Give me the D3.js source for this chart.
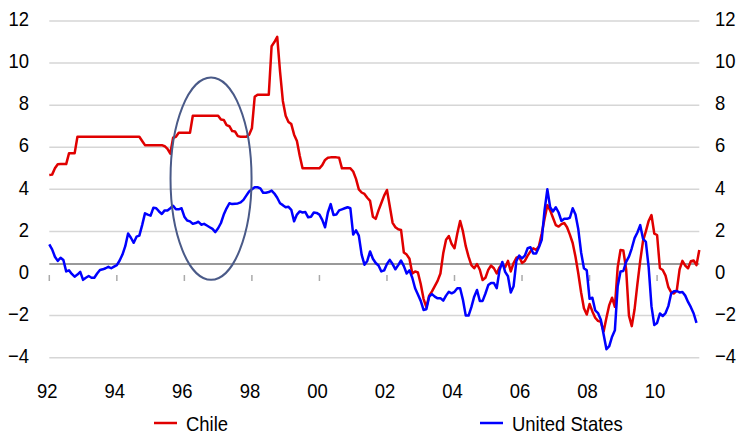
<!DOCTYPE html>
<html>
<head>
<meta charset="utf-8">
<script src="https://cdn.jsdelivr.net/npm/d3@7"></script>
<style>
body { margin: 0; background: #fff; }
text { font-family: "Liberation Sans", Arial, sans-serif; font-size: 20.5px; fill: #000; }
</style>
</head>
<body>
<svg id="chart" width="739" height="435"></svg>
<script>
// monthly values, starting Jan 1992
var startYear = 1992;

var chile = [
  4.68, 4.7, 5.0, 5.19, 5.2, 5.2, 5.2, 5.71, 5.71, 5.71, 6.5, 6.5,
  6.5, 6.5, 6.5, 6.5, 6.5, 6.5, 6.5, 6.5, 6.5, 6.5, 6.5, 6.5,
  6.5, 6.5, 6.5, 6.5, 6.5, 6.5, 6.5, 6.5, 6.5, 6.3, 6.1, 6.1,
  6.1, 6.1, 6.1, 6.1, 6.1, 6.05, 5.92, 5.7, 6.45, 6.5, 6.69, 6.69,
  6.69, 6.69, 6.69, 7.5, 7.5, 7.5, 7.5, 7.5, 7.5, 7.5, 7.5, 7.5,
  7.5, 7.32, 7.3, 7.05, 7.0, 6.77, 6.75, 6.53, 6.5, 6.5, 6.5, 6.6,
  6.9, 8.4, 8.5, 8.5, 8.5, 8.5, 8.5, 10.8, 11.0, 11.25, 9.6, 8.2,
  7.5, 7.2, 7.1, 6.6, 6.3, 5.6, 5.0, 5.0, 5.0, 5.0, 5.0, 5.0,
  5.0, 5.15, 5.4, 5.5, 5.52, 5.52, 5.52, 5.5, 5.0, 5.0, 5.0, 5.0,
  4.85, 4.5, 4.0, 3.85, 3.78, 3.6, 3.45, 2.7, 2.6, 3.0, 3.35, 3.7,
  3.97, 3.2, 2.41, 2.2, 2.1, 2.07, 1.0, 0.9, 0.7, 0.0, 0.1, 0.05,
  -0.5, -1.2, -1.6, -1.05, -0.85, -0.6, -0.35, 0.0, 0.96, 1.6, 1.78, 1.4,
  1.2, 1.9, 2.5, 2.0, 1.3, 0.8, 0.4, 0.25, 0.45, 0.18, -0.31, -0.2,
  0.17, 0.38, 0.25, 0.0, 0.3, 0.45, 0.3, 0.6, 0.1, 0.5, 0.75, 0.8,
  0.5, 0.6, 0.85, 1.05, 1.2, 1.12, 1.3, 1.9, 2.6, 3.25, 3.0, 2.65,
  2.3, 2.23, 2.35, 2.4, 2.2, 1.85, 1.45, 0.8, 0.0, -0.9, -1.65, -1.95,
  -1.45, -1.8, -2.1, -2.25, -2.3, -2.75, -2.1, -1.5, -1.15, -1.58, 0.3, 1.12,
  1.1, 0.2, -2.0, -2.5, -1.7, -0.5, 0.6, 1.55, 2.0, 2.5, 2.78, 1.9,
  1.83, 0.25, 0.17, -0.1, -0.65, -0.9, -0.95, -0.8, 0.2, 0.6, 0.38, 0.25,
  0.58, 0.62, 0.4, 1.12
];

var unitedStates = [
  1.39, 1.15, 0.8, 0.6, 0.75, 0.64, 0.1, 0.15, -0.02, -0.15, -0.05, 0.08,
  -0.3, -0.2, -0.12, -0.2, -0.2, 0.0, 0.17, 0.2, 0.25, 0.32, 0.25, 0.33,
  0.4, 0.62, 0.9, 1.3, 1.9, 1.7, 1.46, 1.75, 1.8, 2.3, 2.86, 2.8,
  2.75, 3.13, 3.1, 2.95, 2.83, 3.0, 3.0, 3.1, 3.22, 3.05, 3.05, 3.1,
  2.7, 2.52, 2.48, 2.36, 2.4, 2.46, 2.32, 2.36, 2.28, 2.2, 2.12, 1.97,
  2.15, 2.4, 2.8, 3.1, 3.34, 3.3, 3.32, 3.33, 3.38, 3.5, 3.7, 3.9,
  4.0, 4.1, 4.1, 4.05, 3.84, 3.84, 3.87, 3.94, 3.8, 3.6, 3.34, 3.25,
  3.15, 3.17, 3.03, 2.48, 2.8, 2.95, 2.9, 2.92, 2.67, 2.7, 2.9, 2.88,
  2.8, 2.55, 2.2, 2.9, 3.3, 2.78, 2.8, 3.0, 3.05, 3.1, 3.15, 3.1,
  1.85, 2.05, 1.8, 0.9, 0.42, 0.6, 1.05, 0.7, 0.5, 0.38, 0.1, 0.15,
  0.45, 0.65, 0.45, 0.2, 0.4, 0.62, 0.35, 0.0, 0.15, -0.2, -0.7, -1.0,
  -1.3, -1.73, -1.7, -1.1, -0.98, -1.1, -1.18, -1.17, -1.29, -1.05, -0.87, -0.94,
  -0.87, -0.7, -0.7, -1.25, -2.0, -2.0, -1.6, -1.1, -0.78, -1.3, -1.3, -0.95,
  -0.55, -0.45, -0.45, -0.7, 0.15, 0.55, 0.08, -0.13, -0.9, -0.6, 0.6, 0.85,
  0.72, 0.85, 1.2, 1.25, 0.95, 0.95, 1.25, 1.6, 3.0, 4.0, 3.15, 2.95,
  3.15, 2.9, 2.5, 2.6, 2.6, 2.65, 3.1, 2.8, 2.1, 1.0, 0.25, 0.15,
  -1.2, -1.15, -1.75, -1.88, -2.2, -2.9, -3.6, -3.45, -3.0, -2.7, -0.6, 0.1,
  0.12, 0.55, 0.8, 1.2, 1.68, 1.95, 2.3, 1.65, 1.51, 0.3, -1.55, -2.45,
  -2.35, -1.9, -2.02, -1.88, -1.55, -0.95, -0.84, -0.83, -0.9, -0.88, -1.05, -1.35,
  -1.6, -1.9, -2.35
];

var yTicks = [-4, -2, 0, 2, 4, 6, 8, 10, 12];
var xTickYears = [1992, 1994, 1996, 1998, 2000, 2002, 2004, 2006, 2008, 2010];
var xTickLabels = ["92", "94", "96", "98", "00", "02", "04", "06", "08", "10"];
var baselineValue = 0.45;
// circled period: centre (year, value) and radii
var ellipseCentre = [1996.79, 4.51];
var ellipseRadius = [1.2, 4.81];

var squeeze = "scale(0.9,1)"; // the original face is narrower than Liberation Sans

var svg = d3.select("#chart");

var x = d3.scaleLinear().domain([1992, 2011.25]).range([49.3, 699.3]);
var y = d3.scaleLinear().domain([-4, 12]).range([357.7, 21]);

function fmt(v) { return v < 0 ? "\u2212" + Math.abs(v) : String(v); }

// gridlines
svg.append("g").selectAll("line")
    .data(yTicks.filter(d => d !== 0))
    .enter().append("line")
    .attr("x1", x.range()[0]).attr("x2", x.range()[1])
    .attr("y1", d => y(d)).attr("y2", d => y(d))
    .attr("stroke", "#d6d6d6").attr("stroke-width", 1.5);

svg.append("line")
    .attr("x1", x.range()[0]).attr("x2", x.range()[1])
    .attr("y1", y(baselineValue)).attr("y2", y(baselineValue))
    .attr("stroke", "#999").attr("stroke-width", 2);

// year ticks under the baseline
svg.append("g").selectAll("line")
    .data(xTickYears)
    .enter().append("line")
    .attr("x1", d => x(d)).attr("x2", d => x(d))
    .attr("y1", y(0) + 1.5).attr("y2", y(0) + 7.5)
    .attr("stroke", "#aaa").attr("stroke-width", 1.5);

// y axes both sides
var left = svg.append("g").attr("transform", "translate(29,0)")
    .call(d3.axisLeft(y).tickValues(yTicks).tickSize(0).tickPadding(0).tickFormat(fmt));
var right = svg.append("g").attr("transform", "translate(715,0)")
    .call(d3.axisRight(y).tickValues(yTicks).tickSize(0).tickPadding(0).tickFormat(fmt));
[left, right].forEach(g => {
    g.select(".domain").remove();
    g.selectAll("text")
        .attr("font-size", null).attr("font-family", null)
        .attr("x", 0).attr("dy", "0.23em")
        .attr("transform", squeeze);
});

// x labels
svg.append("g").selectAll("text")
    .data(xTickYears)
    .enter().append("text")
    .attr("transform", d => "translate(" + (x(d) - 2) + ",398) " + squeeze)
    .attr("text-anchor", "middle")
    .text((d, i) => xTickLabels[i]);

var line = d3.line()
    .x((d, i) => x(startYear + i / 12))
    .y(d => y(d));

var series = [
    { name: "Chile", values: chile, color: "#e00000", lx: 154 },
    { name: "United States", values: unitedStates, color: "#0000ff", lx: 480 }
];

svg.append("g").selectAll("path")
    .data(series)
    .enter().append("path")
    .attr("d", d => line(d.values))
    .attr("fill", "none")
    .attr("stroke", d => d.color)
    .attr("stroke-width", 2.5)
    .attr("stroke-linejoin", "round");

svg.append("ellipse")
    .attr("cx", x(ellipseCentre[0]))
    .attr("cy", y(ellipseCentre[1]))
    .attr("rx", x(1992 + ellipseRadius[0]) - x(1992))
    .attr("ry", y(0) - y(ellipseRadius[1]))
    .attr("fill", "none")
    .attr("stroke", "#4a5a88")
    .attr("stroke-width", 2);

// legend
var leg = svg.append("g").selectAll("g")
    .data(series)
    .enter().append("g");
leg.append("line")
    .attr("x1", d => d.lx).attr("x2", d => d.lx + 23)
    .attr("y1", 423).attr("y2", 423)
    .attr("stroke", d => d.color).attr("stroke-width", 2.5);
leg.append("text")
    .attr("transform", d => "translate(" + (d.lx + 32) + ",430.5) " + squeeze)
    .text(d => d.name);
</script>
</body>
</html>
